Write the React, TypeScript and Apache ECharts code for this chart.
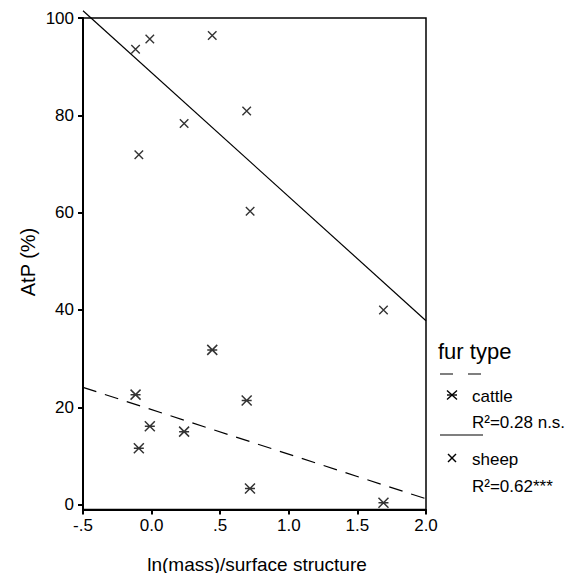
import React, { useEffect, useRef } from "react";
import * as echarts from "echarts";

const xTickValues = [-0.5, 0, 0.5, 1.0, 1.5, 2.0];
const xTickLabels = ["-.5", "0.0", ".5", "1.0", "1.5", "2.0"];
const yTickValues = [0, 20, 40, 60, 80, 100];

const cattlePoints: [number, number][] = [
  [-0.117, 22.6],
  [0.442, 31.8],
  [0.693, 21.4],
  [-0.013, 16.1],
  [0.237, 15.0],
  [-0.093, 11.6],
  [0.717, 3.3],
  [1.69, 0.4],
];

const sheepPoints: [number, number][] = [
  [-0.117, 93.6],
  [-0.013, 95.7],
  [0.442, 96.4],
  [0.693, 80.9],
  [0.237, 78.3],
  [-0.093, 71.9],
  [0.718, 60.3],
  [1.69, 40.0],
];

const cattleFit: [number, number][] = [
  [-0.5, 24.1],
  [2.0, 1.2],
];
const sheepFit: [number, number][] = [
  [-0.5, 101.5],
  [2.0, 37.8],
];

const xTitle = "ln(mass)/surface structure";
const yTitle = "AtP (%)";
const legendTitle = "fur type";
const legendCattle = "cattle";
const legendCattleR2 = "R²=0.28 n.s.";
const legendSheep = "sheep";
const legendSheepR2 = "R²=0.62***";

const FONT = "'Liberation Sans', Arial, sans-serif";
const X_SYMBOL = "path://M0,0L10,10M10,0L0,10";
const AST_SYMBOL = "path://M0,0L10,10M10,0L0,10M0,5L10,5";

export default function App() {
  const ref = useRef<HTMLDivElement>(null);
  useEffect(() => {
    if (!ref.current) return;
    const chart = echarts.init(ref.current, null, { renderer: "svg" });
    const lx = 440;
    const mk = 452;
    const tx = 472;
    const stroke = { stroke: "#000", lineWidth: 1.4 };
    chart.setOption({
      animation: false,
      backgroundColor: "#fff",
      textStyle: { fontFamily: FONT },
      grid: {
        left: 83,
        top: 18,
        right: 143,
        bottom: 63.5,
        show: true,
        borderColor: "#000",
        borderWidth: 1.5,
        backgroundColor: "transparent",
      },
      xAxis: {
        type: "value",
        min: -0.5,
        max: 2.0,
        interval: 0.5,
        axisLine: { show: true, onZero: false, lineStyle: { color: "#000", width: 2 } },
        axisTick: { show: true, length: 5, lineStyle: { color: "#000", width: 2 } },
        splitLine: { show: false },
        axisLabel: {
          color: "#000",
          fontSize: 17,
          fontFamily: FONT,
          margin: 7,
          formatter: (v: number) => {
            const i = xTickValues.findIndex((t) => Math.abs(t - v) < 1e-9);
            return i >= 0 ? xTickLabels[i] : "";
          },
        },
      },
      yAxis: {
        type: "value",
        min: -1,
        max: 100,
        axisLine: { show: true, onZero: false, lineStyle: { color: "#000", width: 2 } },
        axisTick: {
          show: true,
          length: 5,
          customValues: yTickValues,
          lineStyle: { color: "#000", width: 2 },
        },
        splitLine: { show: false },
        axisLabel: {
          color: "#000",
          fontSize: 17,
          fontFamily: FONT,
          margin: 9,
          customValues: yTickValues,
        },
      },
      graphic: [
        {
          type: "text",
          x: 257,
          y: 564,
          style: {
            text: xTitle,
            fontSize: 19,
            fontFamily: FONT,
            fill: "#000",
            align: "center",
            verticalAlign: "middle",
          },
        },
        {
          type: "text",
          x: 28,
          y: 262,
          rotation: Math.PI / 2,
          style: {
            text: yTitle,
            fontSize: 20,
            fontFamily: FONT,
            fill: "#000",
            align: "center",
            verticalAlign: "middle",
          },
        },
        {
          type: "text",
          x: 438,
          y: 351,
          style: { text: legendTitle, fontSize: 22, fontFamily: FONT, fill: "#000", verticalAlign: "middle" },
        },
        {
          type: "line",
          shape: { x1: lx, y1: 374, x2: lx + 43, y2: 374 },
          style: { stroke: "#000", lineWidth: 1.2, lineDash: [13, 15] },
        },
        {
          type: "group",
          x: mk,
          y: 395,
          children: [
            { type: "line", shape: { x1: -5, y1: -4.5, x2: 5, y2: 4.5 }, style: stroke },
            { type: "line", shape: { x1: 5, y1: -4.5, x2: -5, y2: 4.5 }, style: stroke },
            { type: "line", shape: { x1: -5, y1: 0, x2: 5, y2: 0 }, style: stroke },
          ],
        },
        {
          type: "text",
          x: tx,
          y: 396,
          style: { text: legendCattle, fontSize: 17, fontFamily: FONT, fill: "#000", verticalAlign: "middle" },
        },
        {
          type: "text",
          x: tx,
          y: 422,
          style: { text: legendCattleR2, fontSize: 17, fontFamily: FONT, fill: "#000", verticalAlign: "middle" },
        },
        {
          type: "line",
          shape: { x1: lx, y1: 435, x2: lx + 43, y2: 435 },
          style: { stroke: "#000", lineWidth: 1.2 },
        },
        {
          type: "group",
          x: mk,
          y: 458,
          children: [
            { type: "line", shape: { x1: -4, y1: -4, x2: 4, y2: 4 }, style: stroke },
            { type: "line", shape: { x1: 4, y1: -4, x2: -4, y2: 4 }, style: stroke },
          ],
        },
        {
          type: "text",
          x: tx,
          y: 459,
          style: { text: legendSheep, fontSize: 17, fontFamily: FONT, fill: "#000", verticalAlign: "middle" },
        },
        {
          type: "text",
          x: tx,
          y: 486,
          style: { text: legendSheepR2, fontSize: 17, fontFamily: FONT, fill: "#000", verticalAlign: "middle" },
        },
      ],
      series: [
        {
          name: "cattle fit",
          type: "line",
          data: cattleFit,
          symbol: "none",
          clip: false,
          lineStyle: { color: "#000", width: 1.2, type: [14, 9] },
          silent: true,
        },
        {
          name: "sheep fit",
          type: "line",
          data: sheepFit,
          symbol: "none",
          clip: false,
          lineStyle: { color: "#000", width: 1.2 },
          silent: true,
        },
        {
          name: "cattle",
          type: "scatter",
          data: cattlePoints,
          symbol: AST_SYMBOL,
          symbolSize: 10,
          symbolKeepAspect: false,
          clip: false,
          itemStyle: { color: "none", borderColor: "#000", borderWidth: 1.5 },
        },
        {
          name: "sheep",
          type: "scatter",
          data: sheepPoints,
          symbol: X_SYMBOL,
          symbolSize: 8.5,
          clip: false,
          itemStyle: { color: "none", borderColor: "#000", borderWidth: 1.4 },
        },
      ],
    });
    return () => chart.dispose();
  }, []);
  return (
    <div
      ref={ref}
      style={{ position: "absolute", left: 0, top: 0, width: 569, height: 573, background: "#fff" }}
    />
  );
}
